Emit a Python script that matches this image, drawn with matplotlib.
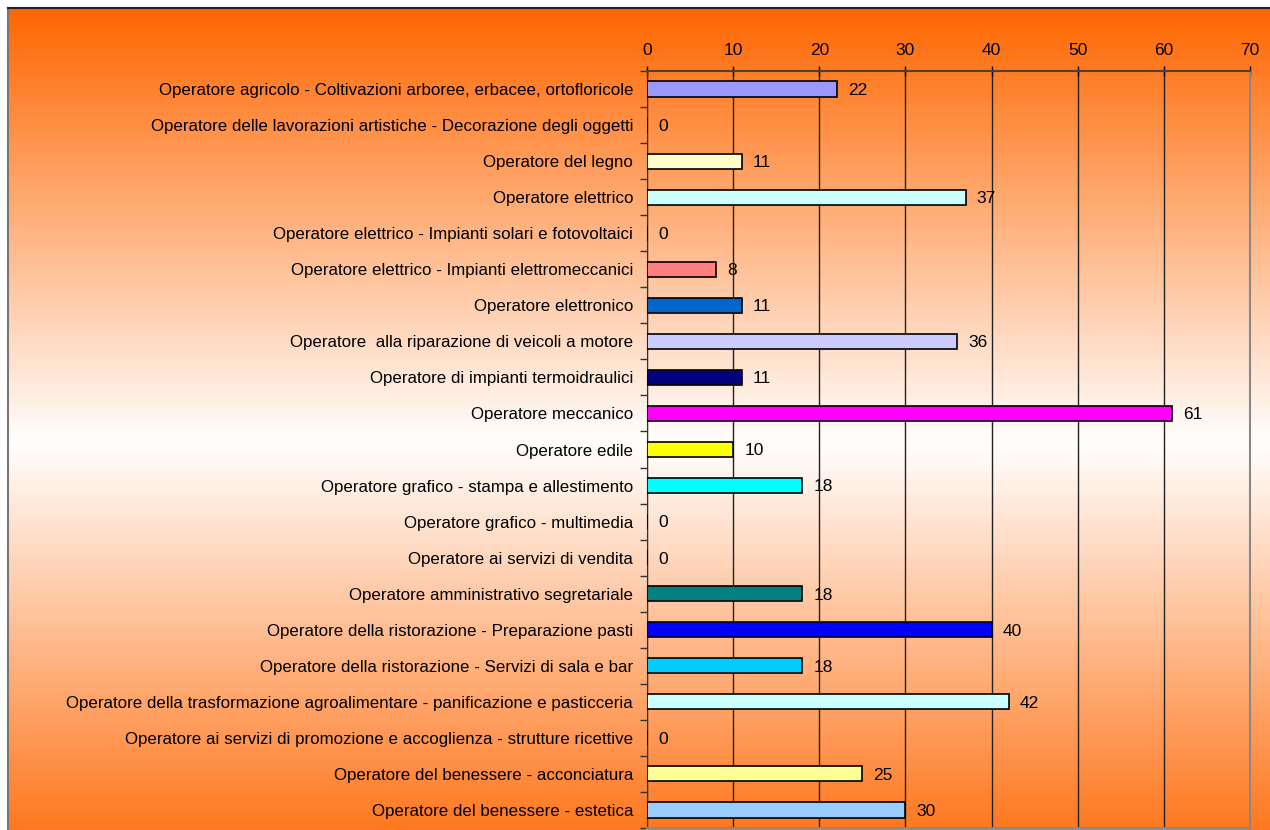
import numpy as np
import matplotlib
matplotlib.use('Agg')
from matplotlib import pyplot as plt
from matplotlib.colors import LinearSegmentedColormap

plt.rcParams['font.family'] = ['Liberation Sans', 'DejaVu Sans']

categories = [
    'Operatore agricolo - Coltivazioni arboree, erbacee, ortofloricole',
    'Operatore delle lavorazioni artistiche - Decorazione degli oggetti',
    'Operatore del legno',
    'Operatore elettrico',
    'Operatore elettrico - Impianti solari e fotovoltaici',
    'Operatore elettrico - Impianti elettromeccanici',
    'Operatore elettronico',
    'Operatore  alla riparazione di veicoli a motore',
    'Operatore di impianti termoidraulici',
    'Operatore meccanico',
    'Operatore edile',
    'Operatore grafico - stampa e allestimento',
    'Operatore grafico - multimedia',
    'Operatore ai servizi di vendita',
    'Operatore amministrativo segretariale',
    'Operatore della ristorazione - Preparazione pasti',
    'Operatore della ristorazione - Servizi di sala e bar',
    'Operatore della trasformazione agroalimentare - panificazione e pasticceria',
    'Operatore ai servizi di promozione e accoglienza - strutture ricettive',
    'Operatore del benessere - acconciatura',
    'Operatore del benessere - estetica',
]
values = [22, 0, 11, 37, 0, 8, 11, 36, 11, 61, 10, 18, 0, 0, 18, 40, 18, 42, 0, 25, 30]
bar_colors = ['#9999FF', '#FFFFFF', '#FFFFCC', '#CCFFFF', '#FFFFFF', '#FF8080', '#0066CC',
              '#CCCCFF', '#000080', '#FF00FF', '#FFFF00', '#00FFFF', '#FFFFFF', '#FFFFFF',
              '#008080', '#0000FF', '#00CCFF', '#CCFFFF', '#FFFFFF', '#FFFF99', '#99CCFF']
xticks = [0, 10, 20, 30, 40, 50, 60, 70]

fig = plt.figure(figsize=(12.7, 8.3), dpi=100)
fig.patch.set_facecolor('white')

# gradient background: orange -> white -> orange
bg = fig.add_axes([8 / 1270, 0, 1262 / 1270, 822 / 830])
cmap = LinearSegmentedColormap.from_list('bg', [(0, '#FF6600'), (0.53, '#FFFFFF'), (1, '#FF7820')])
grad = np.linspace(0, 1, 512).reshape(-1, 1)
bg.imshow(grad, aspect='auto', cmap=cmap, extent=[0, 1, 0, 1], origin='upper')
bg.set_xticks([])
bg.set_yticks([])
for s in ['bottom', 'right']:
    bg.spines[s].set_visible(False)
bg.spines['top'].set_color('#222222')
bg.spines['left'].set_color('#777777')
bg.spines['top'].set_linewidth(1.5)
bg.spines['left'].set_linewidth(1.5)

ax = fig.add_axes([647 / 1270, 2 / 830, 603 / 1270, 757 / 830])
ax.patch.set_alpha(0)
y = np.arange(len(categories))
ax.barh(y, values, height=0.42, color=bar_colors, edgecolor='black', linewidth=1.2, zorder=3)
for yi, v in zip(y, values):
    ax.annotate(str(v), (v, yi), xytext=(8, -1), textcoords='offset points',
                va='center', ha='left', fontsize=12.5, zorder=4)

ax.set_ylim(len(categories) - 0.5, -0.5)
ax.set_xlim(0, 70)
ax.xaxis.tick_top()
ax.set_xticks(xticks)
ax.tick_params(axis='x', direction='inout', length=7, labelsize=12.5, pad=6, width=1)
ax.set_yticks(y)
ax.set_yticklabels(categories, fontsize=12.2)
ax.tick_params(axis='y', length=0, pad=10)
ax.set_yticks(np.arange(len(categories) + 1) - 0.5, minor=True)
ax.tick_params(axis='y', which='minor', length=5, direction='out', width=1, color='#333333')
ax.grid(axis='x', color='#222222', linewidth=1, zorder=1)
ax.set_axisbelow(True)
ax.spines['top'].set_color('#444444')
ax.spines['top'].set_linewidth(1.5)
ax.spines['left'].set_color('#333333')
ax.spines['right'].set_color('#888888')
ax.spines['right'].set_linewidth(1.5)
ax.spines['bottom'].set_color('#888888')
ax.spines['bottom'].set_linewidth(1.5)

fig.savefig('out.png', dpi=100)
